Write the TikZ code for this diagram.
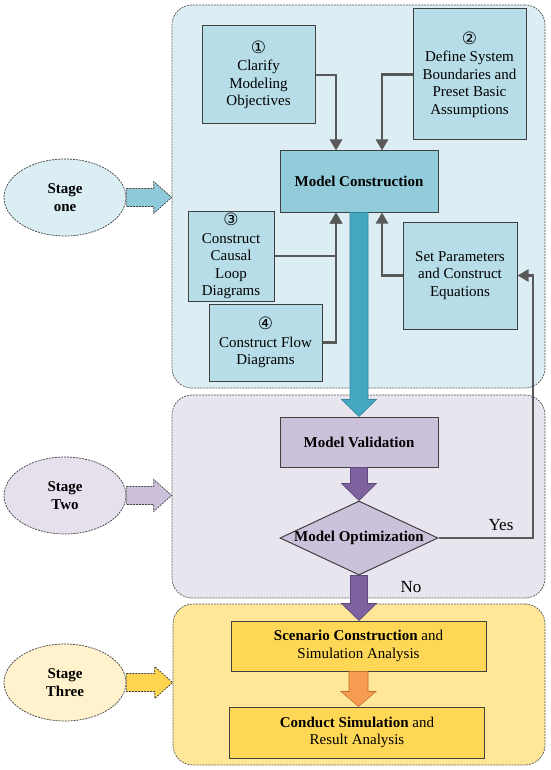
\documentclass[tikz,border=0pt]{standalone}
\usepackage{fontspec}
\setmainfont{Liberation Serif}
\newfontfamily\circfont{DejaVu Sans}
\usetikzlibrary{shapes.geometric,arrows.meta,calc}
\definecolor{sonefill}{HTML}{DCEEF4}
\definecolor{stwofill}{HTML}{E8E5EE}
\definecolor{sthreefill}{HTML}{FFE699}
\definecolor{bluebox}{HTML}{B7DDE8}
\definecolor{bluemain}{HTML}{92CCDB}
\definecolor{tealarrow}{HTML}{45A8C3}
\definecolor{tealedge}{HTML}{31859C}
\definecolor{purplebox}{HTML}{CCC1DA}
\definecolor{purplearrow}{HTML}{7E62A0}
\definecolor{purpleedge}{HTML}{5F4B7A}
\definecolor{yellowbox}{HTML}{FFD757}
\definecolor{orangearrow}{HTML}{F79B52}
\definecolor{orangeedge}{HTML}{C0702F}
\definecolor{eone}{HTML}{DAEEF3}
\definecolor{etwo}{HTML}{E6E0EC}
\definecolor{ethree}{HTML}{FFF2CC}
\definecolor{saone}{HTML}{8FCADA}
\definecolor{satwo}{HTML}{CCC0DA}
\definecolor{sathree}{HTML}{FFD54F}
\definecolor{linegray}{HTML}{595959}
\definecolor{edgegray}{HTML}{404040}
\newcommand\txtsize{\fontsize{15}{17.5}\selectfont}
\newcommand\cnum[1]{{\circfont\fontsize{17}{17.5}\selectfont #1}}
% vertical block arrow between two named anchors
\newcommand\vblockarrow[6]{%
  \draw[fill=#1,draw=#2,line width=0.6pt] let \p1=(#3), \p2=(#4) in
    (\x1-#5pt,\y1) -- (\x1-#5pt,\y2+#6pt) -- (\x1-17.5pt,\y2+#6pt) -- (\x1,\y2)
    -- (\x1+17.5pt,\y2+#6pt) -- (\x1+#5pt,\y2+#6pt) -- (\x1+#5pt,\y1) -- cycle;}
% horizontal dashed stage arrow
\newcommand\hblockarrow[3]{%
  \draw[fill=#1,draw=edgegray,dashed,dash pattern=on 2pt off 1pt,line width=0.7pt] let \p1=(#2), \p2=(#3) in
    (\x1,\y1+9pt) -- (\x2-18pt,\y1+9pt) -- (\x2-18pt,\y1+16pt) -- (\x2,\y1)
    -- (\x2-18pt,\y1-16pt) -- (\x2-18pt,\y1-9pt) -- (\x1,\y1-9pt) -- cycle;}
\tikzset{
  stagebox/.style={draw=linegray,line width=0.7pt,dash pattern=on 2pt off 1pt,rounded corners=20pt,rectangle},
  stageell/.style={ellipse,draw=edgegray,line width=0.7pt,dash pattern=on 2pt off 1pt,minimum width=122pt,minimum height=77pt,inner sep=0pt,align=center,font=\txtsize\bfseries},
  pbox/.style={rectangle,draw=edgegray,line width=1pt,align=center,inner sep=0pt,font=\txtsize},
  conn/.style={draw=linegray,line width=2.6pt,-{Triangle[length=11pt,width=12pt]}},
}
\begin{document}
\begin{tikzpicture}[x=1pt,y=-1pt]
\useasboundingbox (0,0) rectangle (550,770);
% stage containers
\node[stagebox,fill=sonefill,minimum width=373pt,minimum height=383pt] (sone) at (358.5,196.5) {};
\node[stagebox,fill=stwofill,minimum width=373pt,minimum height=203pt] (stwo) at (358.5,496.5) {};
\node[stagebox,fill=sthreefill,minimum width=372pt,minimum height=161pt] (sthree) at (359,684.5) {};
% stage ellipses
\node[stageell,fill=eone] (eone) at (65,197.5) {Stage\\one};
\node[stageell,fill=etwo] (etwo) at (65,495.5) {Stage\\Two};
\node[stageell,fill=ethree] (ethree) at (65,682.5) {Stage\\Three};
\hblockarrow{saone}{eone.east}{sone.west}
\hblockarrow{satwo}{etwo.east}{stwo.west}
\hblockarrow{sathree}{ethree.east}{sthree.west}
% stage one boxes
\node[pbox,fill=bluebox,minimum width=113pt,minimum height=98pt] (bone) at (258.5,75) {\cnum{①}\\Clarify\\Modeling\\Objectives};
\node[pbox,fill=bluebox,minimum width=113pt,minimum height=131pt] (btwo) at (469.5,74.5) {\cnum{②}\\Define System\\Boundaries and\\Preset Basic\\Assumptions};
\node[pbox,fill=bluemain,minimum width=158pt,minimum height=61pt,font=\txtsize\bfseries] (mc) at (359,181.5) {Model Construction};
\node[pbox,fill=bluebox,minimum width=86pt,minimum height=90pt] (bthree) at (231,256) {\cnum{③}\\Construct\\Causal\\Loop\\Diagrams};
\node[pbox,fill=bluebox,minimum width=113pt,minimum height=77pt] (bfour) at (265.5,342.5) {\cnum{④}\\Construct Flow\\Diagrams};
\node[pbox,fill=bluebox,minimum width=114pt,minimum height=107pt] (sp) at (460,275.5) {Set Parameters\\and Construct\\Equations};
% stage two
\node[pbox,fill=purplebox,minimum width=158pt,minimum height=50pt,font=\txtsize\bfseries] (mv) at (359,442) {Model Validation};
\node[diamond,draw=edgegray,line width=1pt,fill=purplebox,minimum width=158pt,minimum height=74pt,inner sep=0pt,font=\txtsize\bfseries] (opt) at (359,538) {\makebox[0pt]{Model Optimization}};
% stage three
\node[pbox,fill=yellowbox,minimum width=255pt,minimum height=50pt] (sc) at (358.5,646) {\textbf{Scenario Construction} and\\Simulation Analysis};
\node[pbox,fill=yellowbox,minimum width=255pt,minimum height=51pt] (cs) at (357,732.5) {\textbf{Conduct Simulation} and\\Result Analysis};
% connectors
\draw[conn] (bone.east) -| ([xshift=-23pt]mc.north);
\draw[conn] (btwo.west) -| ([xshift=23pt]mc.north);
\draw[conn] (bthree.east) -| ([xshift=-23pt]mc.south);
\draw[conn] (bfour.east) -| ([xshift=-23pt]mc.south);
\draw[conn] (sp.west) -| ([xshift=23pt]mc.south);
\coordinate (yesc) at (533,538);
\draw[conn] (opt.east) -- (yesc) |- (sp.east);
\node[font=\fontsize{17}{20}\selectfont] (yeslab) at (501,525) {Yes};
\node[font=\fontsize{17}{20}\selectfont] (nolab) at (411,587) {No};
% block arrows
\vblockarrow{tealarrow}{tealedge}{mc.south}{mv.north}{9}{17}
\vblockarrow{purplearrow}{purpleedge}{mv.south}{opt.north}{8.5}{17}
\vblockarrow{purplearrow}{purpleedge}{opt.south}{sc.north}{8.5}{17}
\vblockarrow{orangearrow}{orangeedge}{sc.south}{cs.north}{9.5}{15}
\end{tikzpicture}
\end{document}
